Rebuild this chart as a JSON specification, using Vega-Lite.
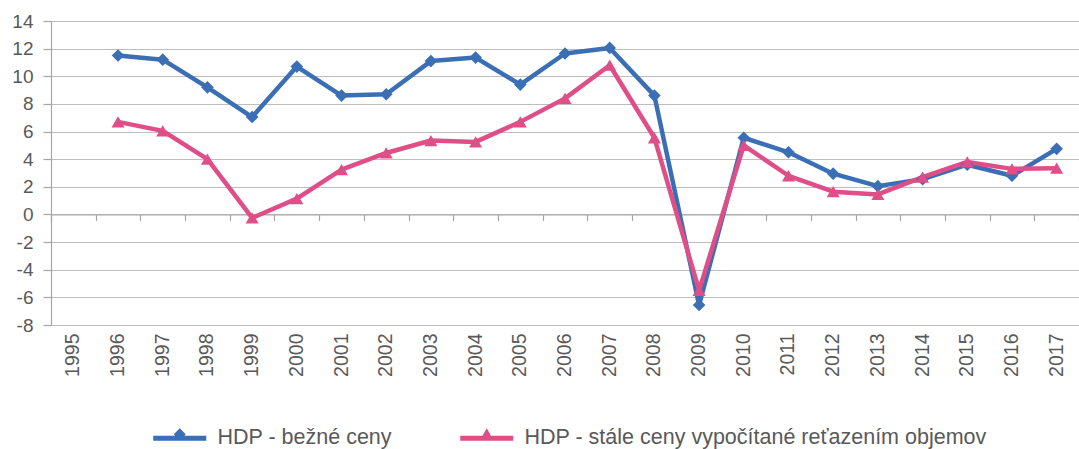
{
  "$schema": "https://vega.github.io/schema/vega-lite/v6.json",
  "autosize": {"type": "none"},
  "padding": {"left": 51, "top": 21, "right": 0, "bottom": 124},
  "width": 1028,
  "height": 304,
  "background": "white",
  "config": {
    "view": {"stroke": null},
    "font": "Liberation Sans",
    "axis": {"labelFont": "Liberation Sans", "labelFontSize": 19, "labelColor": "#595959", "gridColor": "#bdbdbd", "gridWidth": 1.2, "domainColor": "#a6a6a6", "tickColor": "#a6a6a6", "domainWidth": 1.2, "tickWidth": 1.2}
  },
  "data": {"values": [
    {"year": "1995", "series": "HDP - bežné ceny", "value": null},
    {"year": "1996", "series": "HDP - bežné ceny", "value": 11.5},
    {"year": "1997", "series": "HDP - bežné ceny", "value": 11.2},
    {"year": "1998", "series": "HDP - bežné ceny", "value": 9.2},
    {"year": "1999", "series": "HDP - bežné ceny", "value": 7.05},
    {"year": "2000", "series": "HDP - bežné ceny", "value": 10.7},
    {"year": "2001", "series": "HDP - bežné ceny", "value": 8.6},
    {"year": "2002", "series": "HDP - bežné ceny", "value": 8.7},
    {"year": "2003", "series": "HDP - bežné ceny", "value": 11.1},
    {"year": "2004", "series": "HDP - bežné ceny", "value": 11.35},
    {"year": "2005", "series": "HDP - bežné ceny", "value": 9.4},
    {"year": "2006", "series": "HDP - bežné ceny", "value": 11.65},
    {"year": "2007", "series": "HDP - bežné ceny", "value": 12.05},
    {"year": "2008", "series": "HDP - bežné ceny", "value": 8.6},
    {"year": "2009", "series": "HDP - bežné ceny", "value": -6.55},
    {"year": "2010", "series": "HDP - bežné ceny", "value": 5.55},
    {"year": "2011", "series": "HDP - bežné ceny", "value": 4.5},
    {"year": "2012", "series": "HDP - bežné ceny", "value": 2.95},
    {"year": "2013", "series": "HDP - bežné ceny", "value": 2.05},
    {"year": "2014", "series": "HDP - bežné ceny", "value": 2.55},
    {"year": "2015", "series": "HDP - bežné ceny", "value": 3.6},
    {"year": "2016", "series": "HDP - bežné ceny", "value": 2.8},
    {"year": "2017", "series": "HDP - bežné ceny", "value": 4.75},
    {"year": "1996", "series": "HDP - stále ceny vypočítané reťazením objemov", "value": 6.7},
    {"year": "1997", "series": "HDP - stále ceny vypočítané reťazením objemov", "value": 6.05},
    {"year": "1998", "series": "HDP - stále ceny vypočítané reťazením objemov", "value": 4.0},
    {"year": "1999", "series": "HDP - stále ceny vypočítané reťazením objemov", "value": -0.25},
    {"year": "2000", "series": "HDP - stále ceny vypočítané reťazením objemov", "value": 1.15},
    {"year": "2001", "series": "HDP - stále ceny vypočítané reťazením objemov", "value": 3.25},
    {"year": "2002", "series": "HDP - stále ceny vypočítané reťazením objemov", "value": 4.45},
    {"year": "2003", "series": "HDP - stále ceny vypočítané reťazením objemov", "value": 5.35},
    {"year": "2004", "series": "HDP - stále ceny vypočítané reťazením objemov", "value": 5.25},
    {"year": "2005", "series": "HDP - stále ceny vypočítané reťazením objemov", "value": 6.7},
    {"year": "2006", "series": "HDP - stále ceny vypočítané reťazením objemov", "value": 8.4},
    {"year": "2007", "series": "HDP - stále ceny vypočítané reťazením objemov", "value": 10.8},
    {"year": "2008", "series": "HDP - stále ceny vypočítané reťazením objemov", "value": 5.55},
    {"year": "2009", "series": "HDP - stále ceny vypočítané reťazením objemov", "value": -5.5},
    {"year": "2010", "series": "HDP - stále ceny vypočítané reťazením objemov", "value": 5.0},
    {"year": "2011", "series": "HDP - stále ceny vypočítané reťazením objemov", "value": 2.8},
    {"year": "2012", "series": "HDP - stále ceny vypočítané reťazením objemov", "value": 1.65},
    {"year": "2013", "series": "HDP - stále ceny vypočítané reťazením objemov", "value": 1.45},
    {"year": "2014", "series": "HDP - stále ceny vypočítané reťazením objemov", "value": 2.7},
    {"year": "2015", "series": "HDP - stále ceny vypočítané reťazením objemov", "value": 3.8},
    {"year": "2016", "series": "HDP - stále ceny vypočítané reťazením objemov", "value": 3.3},
    {"year": "2017", "series": "HDP - stále ceny vypočítané reťazením objemov", "value": 3.35}
  ]},
  "layer": [
    {
      "mark": {"type": "line", "strokeWidth": 4.5, "strokeJoin": "round"},
      "encoding": {
        "x": {"field": "year", "type": "nominal", "scale": {"type": "band", "paddingInner": 0, "paddingOuter": 0},
              "axis": {"title": null, "orient": "bottom", "offset": -110.5, "labels": false, "domain": true, "ticks": true, "tickBand": "extent", "tickSize": 6, "grid": false}},
        "y": {"field": "value", "type": "quantitative", "scale": {"domain": [-8, 14], "nice": false},
              "axis": {"title": null, "values": [-8, -6, -4, -2, 0, 2, 4, 6, 8, 10, 12, 14], "labelExpr": "toString(datum.value)", "tickSize": 8, "labelPadding": 10, "grid": true}},
        "color": {"field": "series", "type": "nominal",
                  "scale": {"domain": ["HDP - bežné ceny", "HDP - stále ceny vypočítané reťazením objemov"], "range": ["#3A6EB5", "#E04E88"]},
                  "legend": {"orient": "none", "legendX": 118, "legendY": 406, "direction": "horizontal", "title": null,
                             "symbolType": "M-5.3,-0.5H5.3V0.5H-5.3Z M0,-2L1.2,-0.8L0,0.4L-1.2,-0.8Z", "symbolSize": 100, "symbolStrokeWidth": 0,
                             "symbolFillColor": "#3A6EB5", "symbolOpacity": 1,
                             "labelOffset": 27, "columnPadding": 68, "labelFontSize": 21.5, "labelColor": "#595959", "labelFont": "Liberation Sans", "labelLimit": 0,
                             "encode": {"symbols": {"update": {
                               "shape": {"signal": "datum.value == 'HDP - bežné ceny' ? 'M-5.3,-0.5H5.3V0.5H-5.3Z M0,-2L1.2,-0.8L0,0.4L-1.2,-0.8Z' : 'M-5.3,-0.5H5.3V0.5H-5.3Z M0,-2L1.3,0.3H-1.3Z'"},
                               "fill": {"signal": "datum.value == 'HDP - bežné ceny' ? '#3A6EB5' : '#E04E88'"},
                               "strokeWidth": {"value": 0},
                               "opacity": {"value": 1}
                             }}}},
                  "sort": null},
        "order": {"field": "year"}
      }
    },
    {
      "transform": [{"filter": "datum.series == 'HDP - bežné ceny'"}],
      "mark": {"type": "point", "filled": true, "opacity": 1, "shape": "diamond", "size": 160},
      "encoding": {
        "x": {"field": "year", "type": "nominal",
              "axis": {"title": null, "orient": "bottom", "labelAngle": -90, "labelPadding": 8, "labelFontSize": 19.5, "domain": false, "ticks": false, "grid": false}},
        "y": {"field": "value", "type": "quantitative",
              "axis": {"title": null, "values": [-8, -6, -4, -2, 0, 2, 4, 6, 8, 10, 12, 14], "labelExpr": "toString(datum.value)", "tickSize": 8, "labelPadding": 10, "grid": true}},
        "color": {"field": "series", "type": "nominal"}
      }
    },
    {
      "transform": [{"filter": "datum.series != 'HDP - bežné ceny'"}],
      "mark": {"type": "point", "filled": true, "opacity": 1, "shape": "triangle-up", "size": 170},
      "encoding": {
        "x": {"field": "year", "type": "nominal", "axis": null},
        "y": {"field": "value", "type": "quantitative",
              "axis": {"title": null, "values": [-8, -6, -4, -2, 0, 2, 4, 6, 8, 10, 12, 14], "labelExpr": "toString(datum.value)", "tickSize": 8, "labelPadding": 10, "grid": true}},
        "color": {"field": "series", "type": "nominal"}
      }
    }
  ],
  "resolve": {"axis": {"x": "independent"}}
}
